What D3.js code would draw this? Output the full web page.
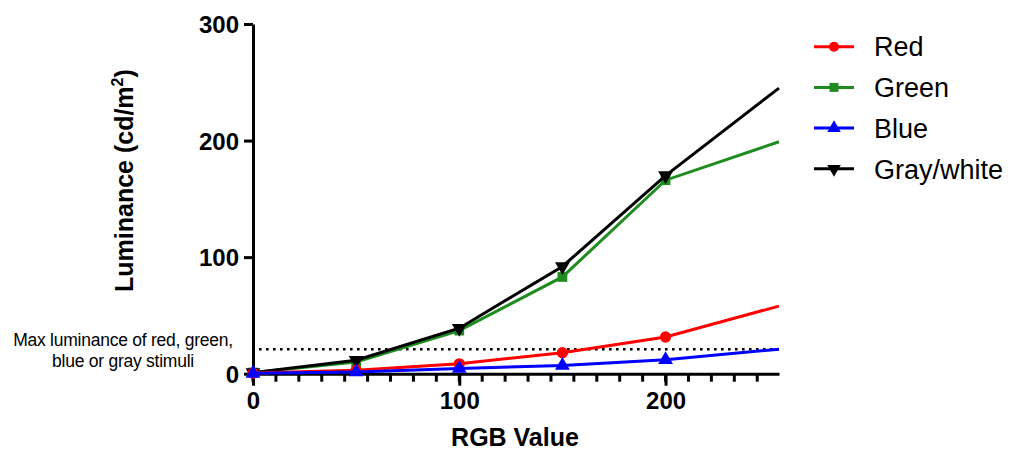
<!DOCTYPE html>
<html>
<head>
<meta charset="utf-8">
<script src="https://cdn.jsdelivr.net/npm/d3@7"></script>
<style>
  body { margin: 0; background: #fff; }
  svg text { font-family: "Liberation Sans", Arial, sans-serif; }
</style>
</head>
<body>
<script>
// RGB input values and measured luminance (cd/m2)
const rgbValues = [0, 50, 100, 150, 200, 255];
const redLum    = [0.5, 3, 8.5, 18, 31.5, 58];
const greenLum  = [1, 10, 37, 83, 166, 199];
const blueLum   = [0.3, 1.5, 4.5, 7, 12, 21];
const grayLum   = [1, 11.5, 39, 92, 170, 245];
const maxStimLum = 21;

const yTicks = [0, 100, 200, 300];
const xTicks = [0, 100, 200];

const seriesNames = ['Red', 'Green', 'Blue', 'Gray/white'];
const seriesColors = ['#ff0000', '#1e8c1e', '#0000ff', '#000000'];
const seriesShapes = [d3.symbolCircle, d3.symbolSquare, d3.symbolTriangle, 'down'];
const seriesValues = [redLum, greenLum, blueLum, grayLum];

const width = 1011, height = 453;
const svg = d3.select('body').append('svg')
  .attr('width', width)
  .attr('height', height);

const x = d3.scaleLinear().domain([0, 255]).range([253, 779]);
const y = d3.scaleLinear().domain([0, 300]).range([373.7, 24]);

// axes
const yAxis = svg.append('g')
  .attr('transform', `translate(${x(0)},0)`)
  .call(d3.axisLeft(y).tickValues(yTicks).tickSize(9).tickSizeOuter(0).tickPadding(5));
const xAxis = svg.append('g')
  .attr('transform', `translate(0,${y(0)})`)
  .call(d3.axisBottom(x).tickValues(xTicks).tickSize(12).tickSizeOuter(0).tickPadding(6));

// minor ticks on x axis
svg.append('g').selectAll('line')
  .data(d3.range(0, 255, 100 / 9))
  .enter()
  .append('line')
  .attr('x1', d => x(d))
  .attr('x2', d => x(d))
  .attr('y1', y(0))
  .attr('y2', y(0) + 8)
  .attr('stroke', '#000')
  .attr('stroke-width', 3);

[xAxis, yAxis].forEach(g => {
  g.select('.domain').attr('stroke-width', 3).attr('stroke', '#000');
  g.selectAll('.tick line').attr('stroke-width', 3).attr('stroke', '#000');
  g.selectAll('.tick text')
    .attr('font-family', '"Liberation Sans", Arial, sans-serif')
    .attr('font-size', 24)
    .attr('font-weight', 'bold')
    .attr('fill', '#000');
});
yAxis.selectAll('.tick text').attr('dy', '0.36em');

// axis titles
svg.append('text')
  .attr('transform', `translate(133,292) rotate(-90)`)
  .attr('font-size', 25)
  .attr('font-weight', 'bold')
  .text('Luminance (cd/m')
  .append('tspan').attr('font-size', 16).attr('dy', -10).text('2')
  .select(function() { return this.parentNode; })
  .append('tspan').attr('dy', 10).text(')');

svg.append('text')
  .attr('x', 515)
  .attr('y', 446)
  .attr('text-anchor', 'middle')
  .attr('font-size', 25)
  .attr('font-weight', 'bold')
  .text('RGB Value');

// dotted reference line
svg.append('line')
  .attr('x1', x(0) + 6)
  .attr('x2', x(255))
  .attr('y1', y(maxStimLum))
  .attr('y2', y(maxStimLum))
  .attr('stroke', '#000')
  .attr('stroke-width', 2.6)
  .attr('stroke-dasharray', '2.6,4.4');

const note = svg.append('text')
  .attr('text-anchor', 'middle')
  .attr('font-size', 17.5)
  .attr('letter-spacing', -0.25);
note.append('tspan').attr('x', 123).attr('y', 346).text('Max luminance of red, green,');
note.append('tspan').attr('x', 123).attr('y', 367).text('blue or gray stimuli');

function marker(shape, size) {
  if (shape === 'down') {
    return d3.symbol().type(d3.symbolTriangle).size(size)();
  }
  return d3.symbol().type(shape).size(size)();
}

const line = d3.line()
  .x((d, i) => x(rgbValues[i]))
  .y(d => y(d));

// draw order: green, gray, red, blue
const order = [1, 3, 0, 2];
order.forEach(k => {
  const g = svg.append('g');
  g.append('path')
    .datum(seriesValues[k])
    .attr('d', line)
    .attr('fill', 'none')
    .attr('stroke', seriesColors[k])
    .attr('stroke-width', 3);
  g.selectAll('path.pt')
    .data(seriesValues[k].slice(0, 5))
    .enter()
    .append('path')
    .attr('class', 'pt')
    .attr('d', marker(seriesShapes[k], k === 0 ? 100 : 95))
    .attr('transform', (d, i) => `translate(${x(rgbValues[i])},${y(d)})` + (seriesShapes[k] === 'down' ? ' rotate(180)' : ''))
    .attr('fill', seriesColors[k]);
});

// legend
const legend = svg.append('g');
const rows = legend.selectAll('g')
  .data(seriesNames)
  .enter()
  .append('g')
  .attr('transform', (d, i) => `translate(0,${46.7 + i * 40.7})`);
rows.append('line')
  .attr('x1', 814).attr('x2', 854)
  .attr('stroke', (d, i) => seriesColors[i])
  .attr('stroke-width', 3);
rows.append('path')
  .attr('d', (d, i) => marker(seriesShapes[i], 80))
  .attr('transform', (d, i) => 'translate(834,0)' + (seriesShapes[i] === 'down' ? ' rotate(180)' : ''))
  .attr('fill', (d, i) => seriesColors[i]);
rows.append('text')
  .attr('x', 874)
  .attr('dy', '0.36em')
  .attr('font-size', 27)
  .text(d => d);
</script>
</body>
</html>
